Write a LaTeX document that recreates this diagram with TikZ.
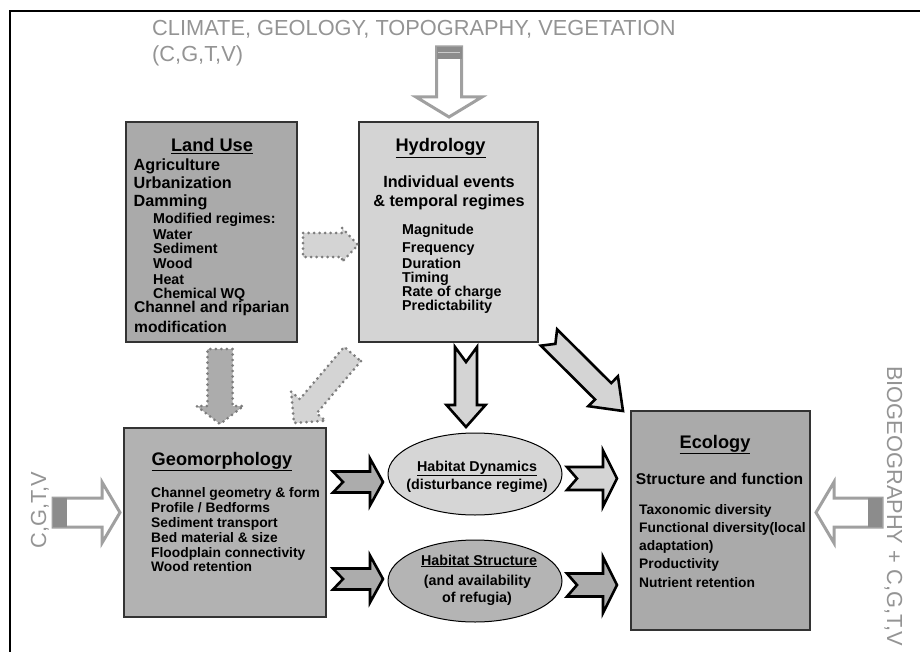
\documentclass[tikz,border=0pt]{standalone}
\usepackage{fontspec}
\setmainfont{Liberation Sans}
\usetikzlibrary{calc,shapes.geometric}
\definecolor{txtgray}{RGB}{148,148,148}
\definecolor{arrgray}{RGB}{160,160,160}
\definecolor{bandgray}{RGB}{140,140,140}
\definecolor{boxA}{RGB}{170,170,170}
\definecolor{boxB}{RGB}{212,212,212}
\definecolor{boxC}{RGB}{178,178,178}
\definecolor{ellA}{RGB}{214,214,214}
\definecolor{ellB}{RGB}{180,180,180}
\definecolor{dotc}{RGB}{125,125,125}
\definecolor{arrlight}{RGB}{212,212,212}
\definecolor{arrmid}{RGB}{172,172,172}
\newcommand\barr[7]{%
  \coordinate (barrH) at ($(#3)!#6pt!(#2)$);
  \draw[#1] ($(#2)!#4pt!90:(#3)$) -- ($(barrH)!#4pt!90:(#3)$) -- ($(barrH)!#5pt!90:(#3)$) -- (#3)
    -- ($(barrH)!#5pt!-90:(#3)$) -- ($(barrH)!#4pt!-90:(#3)$) -- ($(#2)!#4pt!-90:(#3)$) -- ($(#2)!#7pt!(#3)$) -- cycle;
}
\begin{document}
\begin{tikzpicture}[x=1pt,y=-1pt,
  box/.style={draw=black!80, line width=1.3pt, inner sep=0pt},
  ell/.style={ellipse, draw=black, line width=1pt, inner sep=0pt, minimum width=174pt, minimum height=82pt},
  ttl/.style={font=\fontsize{18.2}{20}\selectfont\bfseries, inner sep=0pt},
  big/.style={font=\fontsize{16.2}{18}\selectfont\bfseries, inner sep=0pt},
  bigs/.style={font=\fontsize{15.6}{18}\selectfont\bfseries, inner sep=0pt},
  sm/.style={font=\fontsize{14.3}{16}\selectfont\bfseries, inner sep=0pt},
  xs/.style={font=\fontsize{13.8}{16}\selectfont\bfseries, inner sep=0pt},
  gtxt/.style={font=\fontsize{21.8}{24}\selectfont, text=txtgray, inner sep=0pt},
  blk/.style={draw=black, line width=2.6pt, line join=miter, miter limit=10},
  dotted arrow/.style={draw=dotc, line width=3pt, line cap=round, dash pattern=on 0pt off 5.5pt},
  hollow/.style={draw=arrgray, line width=3pt, fill=white, line join=miter}
]
\useasboundingbox (0,0) rectangle (920,652);
% frame
\draw[line width=2pt] (10,652) -- (10,11) -- (920,11);

% gray heading
\node[gtxt, anchor=base west] (head1) at (152,36) {CLIMATE, GEOLOGY, TOPOGRAPHY, VEGETATION};
\node[gtxt, anchor=base west] (head2) at (152,62) {(C,G,T,V)};

% boxes
\node[box, fill=boxA, minimum width=171pt, minimum height=220pt] (lu) at (211.5,232) {};
\node[box, fill=boxB, minimum width=179pt, minimum height=220pt] (hy) at (448.5,232) {};
\node[box, fill=boxC, minimum width=202pt, minimum height=189pt] (geo) at (225,522.5) {};
\node[box, fill=boxA, minimum width=179pt, minimum height=219pt] (eco) at (720.5,520.5) {};
\node[ell, fill=ellA] (hd) at (475,474) {};
\node[ell, fill=ellB] (hs) at (475,581) {};

% top hollow arrow
\coordinate (ta) at (449,47); \coordinate (tb) at (449,117);
\barr{hollow}{ta}{tb}{12.5}{33}{20}{0}
\fill[bandgray] (436.5,47) rectangle (461.5,59);
\draw[white!55!bandgray, line width=1.2pt] (438,52.5) -- (460,52.5);
% left hollow arrow
\coordinate (la) at (53,512.5); \coordinate (lb) at (120,512.5);
\barr{hollow}{la}{lb}{14.5}{30.5}{18}{0}
\fill[bandgray] (53,498) rectangle (67,527);
% right hollow arrow
\coordinate (ra) at (882,512.5); \coordinate (rb) at (816,512.5);
\barr{hollow}{ra}{rb}{14.5}{30.5}{18}{0}
\fill[bandgray] (868,498) rectangle (882,527);

% dotted arrows
\coordinate (d1a) at (303,245); \coordinate (d1b) at (358,245);
\barr{dotted arrow, fill=arrlight}{d1a}{d1b}{12}{17}{16}{0}
\coordinate (d2a) at (220,349); \coordinate (d2b) at (220,424);
\barr{dotted arrow, fill=arrmid}{d2a}{d2b}{12.5}{23.5}{18}{0}
\coordinate (d3a) at (352.5,354); \coordinate (d3b) at (294,423);
\barr{dotted arrow, fill=arrlight}{d3a}{d3b}{11}{22.5}{22}{0}

% black block arrows
\coordinate (b1a) at (333,482); \coordinate (b1b) at (383,482);
\barr{blk, fill=arrmid}{b1a}{b1b}{10.5}{23.5}{13}{10}
\coordinate (b2a) at (333,579); \coordinate (b2b) at (383,579);
\barr{blk, fill=arrmid}{b2a}{b2b}{10.5}{23.5}{13}{10}
\coordinate (b3a) at (567,478.5); \coordinate (b3b) at (617,478.5);
\barr{blk, fill=arrlight}{b3a}{b3b}{11.5}{28}{14}{10}
\coordinate (b4a) at (567,585); \coordinate (b4b) at (617,585);
\barr{blk, fill=arrmid}{b4a}{b4b}{11.5}{28}{14}{10}
\coordinate (b5a) at (466,347); \coordinate (b5b) at (466,427);
\barr{blk, fill=arrlight}{b5a}{b5b}{11}{19.5}{22}{15}
\coordinate (b6a) at (549,337.5); \coordinate (b6b) at (623,411);
\barr{blk, fill=arrlight}{b6a}{b6b}{11.5}{21}{28}{9}

% Land Use text
\node[ttl, anchor=base] (lut) at (212,152) {\underline{Land Use}};
\foreach \t/\y [count=\i] in {{Agriculture}/170.5, {Urbanization}/189, {Damming}/207}
  \node[big, anchor=base west] (lua\i) at (133.5,\y) {\t};
\foreach \t/\y [count=\i] in {{Modified regimes:}/224, {Water}/240, {Sediment}/254, {Wood}/269, {Heat}/284, {Chemical WQ}/298}
  \node[sm, anchor=base west] (lub\i) at (153,\y) {\t};
\node[bigs, anchor=base west] (luc1) at (134,312) {Channel and riparian};
\node[bigs, anchor=base west] (luc2) at (134,332) {modification};

% Hydrology text
\node[ttl, anchor=base] (hyt) at (440.5,152) {\underline{Hydrology}};
\node[big, anchor=base] (hya1) at (449,188) {Individual events};
\node[big, anchor=base] (hya2) at (449,207) {\& temporal regimes};
\foreach \t/\y [count=\i] in {{Magnitude}/235, {Frequency}/252, {Duration}/268, {Timing}/282, {Rate of charge}/296, {Predictability}/310}
  \node[sm, anchor=base west] (hyb\i) at (402,\y) {\t};

% Geomorphology text
\node[ttl, anchor=base] (geot) at (222,465) {\underline{Geomorphology}};
\foreach \t/\y [count=\i] in {{Channel geometry \& form}/497, {Profile / Bedforms}/512, {Sediment transport}/527, {Bed material \& size}/542, {Floodplain connectivity}/557, {Wood retention}/571}
  \node[xs, anchor=base west] (geol\i) at (151,\y) {\t};

% Ecology text
\node[ttl, anchor=base] (ecot) at (715,448) {\underline{Ecology}};
\node[bigs, anchor=base] (ecos) at (719.5,484) {Structure and function};
\foreach \t/\y [count=\i] in {{Taxonomic diversity}/514, {Functional diversity(local}/532, {adaptation)}/550, {Productivity}/568, {Nutrient retention}/587}
  \node[xs, anchor=base west] (ecol\i) at (639,\y) {\t};

% ellipse text
\node[sm, anchor=base] (hdt) at (477,471) {\underline{Habitat Dynamics}};
\node[sm, anchor=base] (hdl) at (477,489) {(disturbance regime)};
\node[sm, anchor=base] (hst) at (479,565) {\underline{Habitat Structure}};
\node[sm, anchor=base] (hsl1) at (477.5,585) {(and availability};
\node[sm, anchor=base] (hsl2) at (477,602) {of refugia)};

% side texts
\node[gtxt, anchor=base, rotate=90] (lside) at (46,510) {C,G,T,V};
\node[gtxt, anchor=base, rotate=-90] (rside) at (887,506) {BIOGEOGRAPHY + C,G,T,V};
\end{tikzpicture}
\end{document}
